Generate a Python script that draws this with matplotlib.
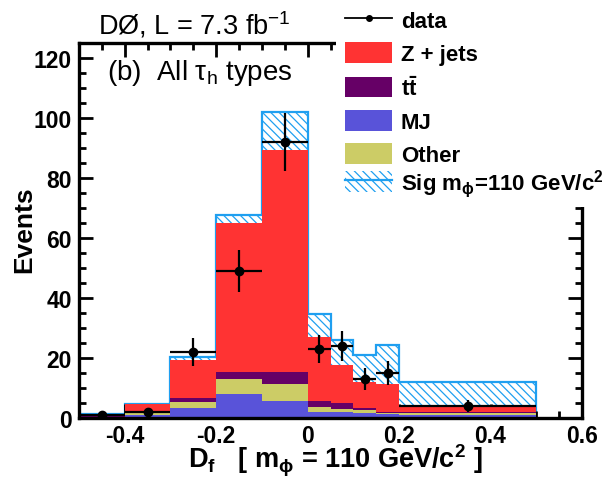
import numpy as np
import matplotlib
matplotlib.use("Agg")
import matplotlib.pyplot as plt
from matplotlib.patches import Patch, Rectangle
from matplotlib.lines import Line2D
from matplotlib.ticker import MultipleLocator, FixedLocator, FuncFormatter

plt.rcParams['font.family'] = ['Liberation Sans', 'DejaVu Sans']
plt.rcParams['mathtext.fontset'] = 'custom'
plt.rcParams['mathtext.rm'] = 'Liberation Sans'
plt.rcParams['mathtext.it'] = 'Liberation Sans:italic'
plt.rcParams['mathtext.bf'] = 'Liberation Sans:bold'
plt.rcParams['mathtext.sf'] = 'Liberation Sans'
plt.rcParams['axes.unicode_minus'] = False
plt.rcParams['hatch.linewidth'] = 0.9

# D_f bins (variable width above 0)
edges = [-0.5, -0.4, -0.3, -0.2, -0.1, 0.0, 0.05, 0.1, 0.15, 0.2, 0.5]

# background components, events per bin
mj     = [0.3, 1.0, 3.4, 8.0, 5.7, 2.1, 2.1, 1.8, 1.2, 1.0]
other  = [0.1, 0.8, 2.0, 5.0, 5.5, 1.7, 0.8, 0.9, 0.6, 0.5]
ttbar  = [0.1, 0.2, 1.4, 2.4, 4.2, 1.9, 2.2, 0.7, 0.3, 0.6]
zjets  = [0.8, 2.5, 12.7, 49.6, 74.1, 21.3, 12.7, 8.7, 9.2, 2.0]
signal = [0.0, 0.3, 0.8, 2.7, 12.5, 7.7, 8.2, 8.9, 13.1, 8.0]
data   = [1, 2, 22, 49, 92, 23, 24, 13, 15, 4]

c_z = '#ff3333'
c_tt = '#660066'
c_mj = '#5953d9'
c_oth = '#cccc66'
c_sig = '#1f9ff0'
sig_hatch = '\\' * 4

edges = np.array(edges)
left = edges[:-1]
width = np.diff(edges)
centers = left + width / 2

fig = plt.figure(figsize=(6.06, 4.81), dpi=100)
ax = fig.add_axes([0.1304, 0.1289, 0.8300, 0.7796])

# stack: MJ, Other, ttbar, Z+jets, then signal on top
bottom = np.zeros(len(left))
for vals, col in [(mj, c_mj), (other, c_oth), (ttbar, c_tt), (zjets, c_z)]:
    ax.bar(left, vals, width, bottom=bottom, align='edge', color=col,
           linewidth=0, zorder=2)
    bottom = bottom + np.array(vals)

ax.bar(left, signal, width, bottom=bottom, align='edge', fill=False,
       hatch=sig_hatch, edgecolor=c_sig, linewidth=0, zorder=1)
ax.stairs(bottom + np.array(signal), edges, baseline=0, color=c_sig,
          linewidth=1.6, zorder=1)

ax.errorbar(centers, data, xerr=width / 2, yerr=np.sqrt(data), fmt='o',
            color='k', ms=6, elinewidth=1.6, capsize=0, zorder=4)

ax.set_xlim(-0.5, 0.6)
ax.set_ylim(0, 125)
ax.xaxis.set_major_locator(FixedLocator([-0.4, -0.2, 0.0, 0.2, 0.4, 0.6]))
ax.xaxis.set_minor_locator(MultipleLocator(0.05))
ax.xaxis.set_major_formatter(FuncFormatter(lambda v, p: '%g' % round(v, 2)))
ax.yaxis.set_major_locator(MultipleLocator(20))
ax.yaxis.set_minor_locator(MultipleLocator(5))
ax.tick_params(which='both', direction='in', top=True, right=True, width=2,
               labelsize=16.5)
ax.tick_params(which='major', length=10)
ax.tick_params(which='minor', length=5)
ax.tick_params(axis='x', pad=4)
ax.tick_params(axis='y', pad=5)
for lab in ax.get_xticklabels() + ax.get_yticklabels():
    lab.set_fontweight('bold')
for sp in ax.spines.values():
    sp.set_linewidth(2.4)

fig.text(98 / 606, 1 - 35 / 481, r'DØ, L = 7.3 fb$^{\mathrm{-1}}$',
         fontsize=19.5, va='baseline', ha='left')
ax.text(0.0557, 0.904, r'(b)  All $\mathrm{\tau_h}$ types', fontsize=20,
        transform=ax.transAxes, va='baseline', ha='left')

fig.text(24 / 606, 1 - 230 / 481, 'Events', rotation=90, fontsize=19,
         fontweight='bold', va='center', ha='center')
fig.text(335 / 606, 1 - 469 / 481,
         r'$\mathbf{D_f}$   [ m$_\mathbf{\phi}$ = 110 GeV/c$^\mathbf{2}$ ]',
         fontsize=19.5, fontweight='bold', va='baseline', ha='center')

# legend panel sits over the upper right corner of the frame
fig.add_artist(Rectangle((336 / 606, 1 - 208 / 481), 1, 1,
                         transform=fig.transFigure, facecolor='white',
                         edgecolor='none', zorder=3))
leg_font = {'weight': 'bold', 'size': 16}
leg_kw = dict(loc='upper left', frameon=False, prop=leg_font, borderpad=0,
              borderaxespad=0, handlelength=2.12, handleheight=1.05,
              handletextpad=0.4)
handles = [
    Line2D([], [], color='k', marker='o', ms=4, lw=1.3),
    Patch(facecolor=c_z, linewidth=0),
    Patch(facecolor=c_tt, linewidth=0),
    Patch(facecolor=c_mj, linewidth=0),
    Patch(facecolor=c_oth, linewidth=0),
]
labels = ['data', 'Z + jets', r'$\mathbf{t\bar{t}}$', 'MJ', 'Other']
leg = fig.legend(handles, labels, bbox_to_anchor=(345 / 606, 1 - 10 / 481),
                 labelspacing=0.47, **leg_kw)
leg.set_zorder(5)

sig_handle = (Patch(facecolor='white', edgecolor=c_sig, hatch=sig_hatch,
                    linewidth=0),
              Line2D([], [], color=c_sig, lw=1.6))
leg2 = fig.legend([sig_handle], [r'Sig m$_\mathbf{\phi}$=110 GeV/c$^\mathbf{2}$'],
                  bbox_to_anchor=(345 / 606, 1 - 168 / 481), **leg_kw)
leg2.set_zorder(5)

fig.savefig('out.png', dpi=100)
